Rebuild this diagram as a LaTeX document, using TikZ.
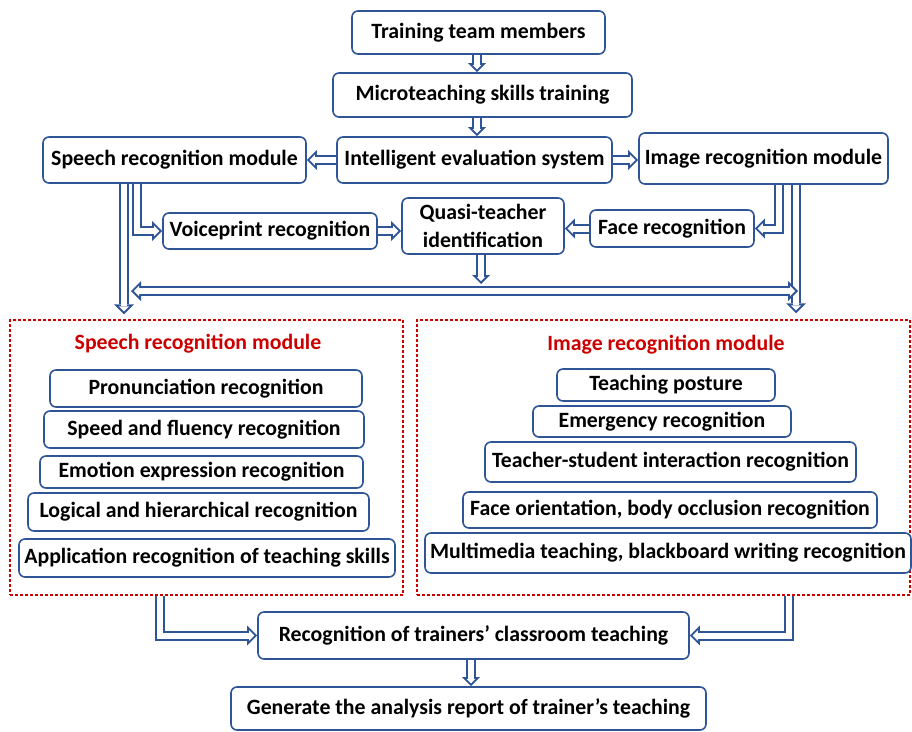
\documentclass[tikz,border=0pt]{standalone}
\usepackage{fontspec}
\setmainfont{Carlito}
\usetikzlibrary{arrows.meta}
\pgfdeclarelayer{bg}
\pgfsetlayers{bg,main}
\definecolor{bblue}{RGB}{47,85,151}
\definecolor{dred}{RGB}{204,0,0}
% hollow block arrow: outer blue pass then inner white pass
\newcommand{\hconn}[2]{\draw[#1out] #2; \draw[#1inn] #2;}
\begin{document}
\begin{tikzpicture}[x=1pt,y=-1pt,
  bx/.style={draw=bblue, line width=1.6pt, rounded corners=6pt, fill=white, inner sep=0pt,
    font=\fontsize{21.8}{28}\selectfont\bfseries, align=center},
  dbox/.style={draw=dred, line width=1.5pt, dash pattern=on 3pt off 2pt, inner sep=0pt},
  ttl/.style={text=dred, font=\fontsize{21.8}{26}\selectfont\bfseries},
  bout/.style={draw=bblue, line width=10pt, -{Triangle[length=10pt,width=20pt,line width=0pt]}},
  binn/.style={draw=white, line width=6pt, shorten >=2.83pt, -{Triangle[length=5.17pt,width=10.3pt,line width=0pt]}},
  sout/.style={draw=bblue, line width=10pt, -{Triangle[length=9pt,width=18pt,line width=0pt]}},
  sinn/.style={draw=white, line width=6pt, shorten >=2.83pt, -{Triangle[length=4.17pt,width=8.3pt,line width=0pt]}},
  dout/.style={draw=bblue, line width=10pt, {Triangle[length=10pt,width=20pt,line width=0pt]}-{Triangle[length=10pt,width=20pt,line width=0pt]}},
  dinn/.style={draw=white, line width=6pt, shorten >=2.83pt, shorten <=2.83pt, {Triangle[length=5.17pt,width=10.3pt,line width=0pt]}-{Triangle[length=5.17pt,width=10.3pt,line width=0pt]}}
]
\useasboundingbox (0,0) rectangle (912,731);

% top chain
\node[bx, minimum width=253, minimum height=43] (train) at (478.5,32.5) {Training team members};
\node[bx, minimum width=299, minimum height=44] (micro) at (482.5,95) {Microteaching skills training};
\node[bx, minimum width=275, minimum height=46] (intel) at (474.5,160) {Intelligent evaluation system};
\node[bx, minimum width=263, minimum height=46] (speech) at (174.5,160) {Speech recognition module};
\node[bx, minimum width=249, minimum height=51] (image) at (763.5,158.5) {Image recognition module};
\node[bx, minimum width=214, minimum height=36] (voice) at (270,231) {Voiceprint recognition};
\node[bx, minimum width=162, minimum height=56] (quasi) at (483,226) {Quasi-teacher\\identification};
\node[bx, minimum width=164, minimum height=37] (face) at (672,228.5) {Face recognition};

% dashed module boxes
\node[dbox, minimum width=393, minimum height=275] (lbox) at (206.5,457.5) {};
\node[dbox, minimum width=493, minimum height=275] (rbox) at (663.5,457.5) {};
\node[ttl] (ltitle) at (198,344) {Speech recognition module};
\node[ttl] (rtitle) at (666,345) {Image recognition module};

\node[bx, minimum width=312, minimum height=37] (p1) at (206,388.5) {Pronunciation recognition};
\node[bx, minimum width=320, minimum height=37] (p2) at (204,429.5) {Speed and fluency recognition};
\node[bx, minimum width=323, minimum height=32] (p3) at (201.5,472) {Emotion expression recognition};
\node[bx, minimum width=341, minimum height=38] (p4) at (198.5,512) {Logical and hierarchical recognition};
\node[bx, minimum width=376, minimum height=38] (p5) at (207,558) {Application recognition of teaching skills};

\node[bx, minimum width=218, minimum height=32] (i1) at (666,385) {Teaching posture};
\node[bx, minimum width=258, minimum height=31] (i2) at (662,421.5) {Emergency recognition};
\node[bx, minimum width=371, minimum height=40] (i3) at (670.5,462) {Teacher-student interaction recognition};
\node[bx, minimum width=414, minimum height=36] (i4) at (670,510) {Face orientation, body occlusion recognition};
\node[bx, minimum width=486, minimum height=40] (i5) at (668,553) {Multimedia teaching, blackboard writing recognition};

\node[bx, minimum width=431, minimum height=47] (recog) at (473.5,635.5) {Recognition of trainers' classroom teaching};
\node[bx, minimum width=475, minimum height=43] (gen) at (468.5,708.5) {Generate the analysis report of trainer's teaching};

% helper coordinates
\coordinate (hl) at (131,291);
\coordinate (hr) at (798,291);

% connectors (behind the boxes)
\begin{pgfonlayer}{bg}
\hconn{s}{(train.south -| 477,0) -- (micro.north -| 477,0)}
\hconn{s}{(micro.south -| 477,0) -- (intel.north -| 477,0)}
\hconn{b}{(intel.west) -- (intel.west -| speech.east)}
\hconn{b}{(intel.east) -- (intel.east -| image.west)}
\hconn{b}{(speech.south -| 136.5,0) |- (voice.west)}
\hconn{b}{(speech.south -| 124,0) -- ([yshift=5pt]lbox.north -| 124,0)}
\hconn{b}{(voice.east) -- (voice.east -| quasi.west)}
\hconn{b}{(face.west) -- (face.west -| quasi.east)}
\hconn{b}{(image.south -| 779,0) |- (face.east)}
\hconn{b}{(image.south -| 796,0) -- ([yshift=6pt]rbox.north -| 796,0)}
\hconn{s}{(quasi.south -| 481,0) -- ([yshift=7pt]hl -| 481,0)}
\hconn{d}{(hl) -- (hr)}
\hconn{b}{(lbox.south -| 160,0) |- (recog.west)}
\hconn{b}{(rbox.south -| 789,0) |- (recog.east)}
\hconn{s}{(recog.south -| 471,0) -- (gen.north -| 471,0)}
\end{pgfonlayer}
\end{tikzpicture}
\end{document}
